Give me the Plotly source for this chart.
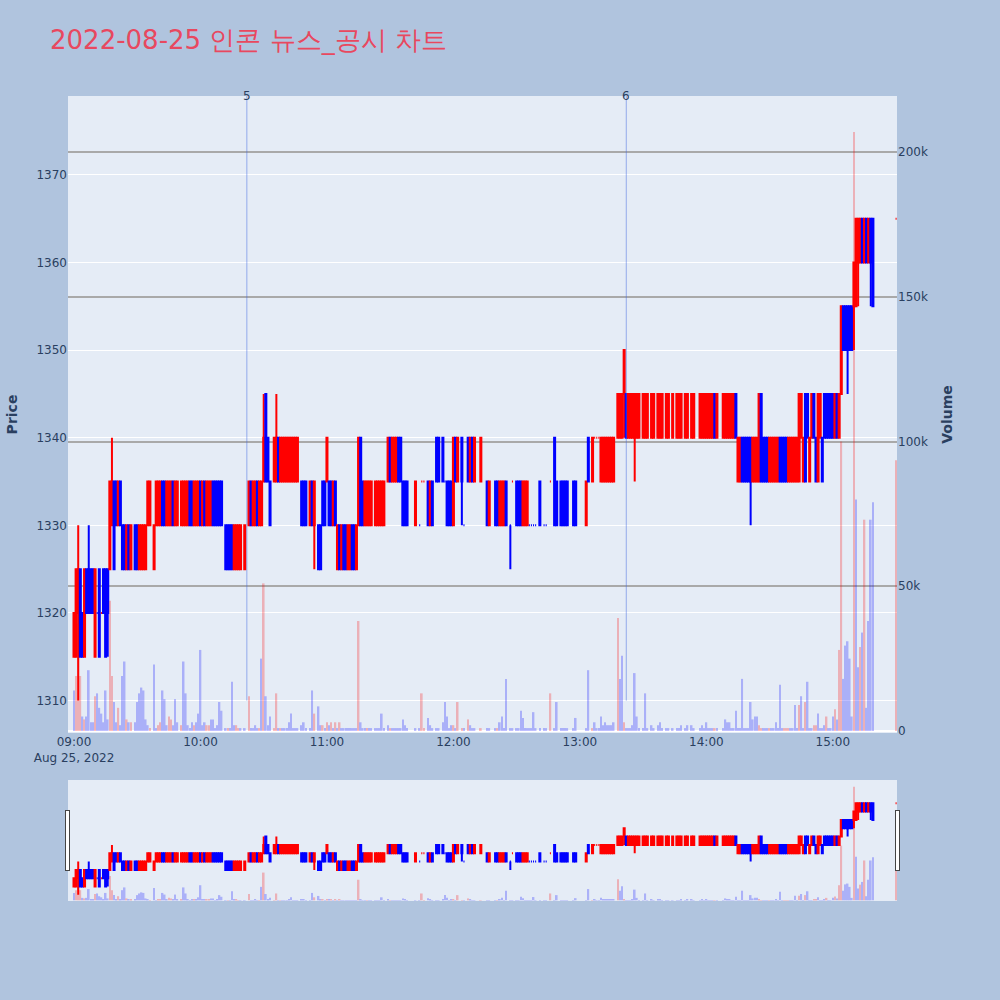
import pandas as pd
import plotly.graph_objects as go
from plotly.subplots import make_subplots

# minutes after 09:00 (only minutes with trades)
minute_idx = [
    0, 1, 2, 3, 4, 5, 6, 7, 8, 9,
    10, 11, 12, 13, 14, 15, 16, 17, 18, 19,
    20, 21, 22, 23, 24, 25, 26, 27, 29, 30,
    31, 32, 33, 34, 35, 36, 38, 39, 40, 41,
    42, 43, 44, 45, 46, 47, 48, 49, 51, 52,
    53, 54, 55, 56, 57, 58, 59, 60, 61, 62,
    63, 64, 65, 66, 67, 68, 69, 70, 72, 73,
    74, 75, 76, 77, 78, 79, 81, 83, 84, 85,
    86, 87, 88, 89, 90, 91, 92, 93, 95, 96,
    97, 98, 99, 100, 101, 102, 103, 104, 105, 106,
    108, 109, 110, 112, 113, 114, 116, 117, 118, 119,
    120, 121, 122, 123, 124, 125, 126, 127, 128, 129,
    130, 131, 132, 133, 134, 135, 136, 137, 138, 139,
    140, 141, 143, 144, 145, 146, 147, 149, 150, 151,
    152, 153, 154, 155, 156, 157, 158, 162, 164, 165,
    166, 168, 169, 170, 172, 173, 175, 176, 177, 178,
    179, 180, 181, 182, 184, 185, 187, 188, 189, 190,
    193, 196, 197, 200, 201, 202, 203, 204, 205, 207,
    208, 210, 211, 212, 213, 214, 215, 216, 217, 218,
    219, 221, 223, 224, 226, 228, 229, 231, 232, 233,
    234, 237, 238, 243, 244, 246, 247, 248, 249, 250,
    251, 252, 253, 254, 255, 256, 258, 259, 260, 261,
    262, 263, 264, 265, 266, 267, 268, 270, 271, 272,
    274, 275, 277, 278, 279, 281, 282, 284, 286, 287,
    288, 290, 291, 293, 294, 297, 298, 299, 300, 301,
    302, 303,
    304, 305, 308, 309, 310, 311, 312, 313, 314, 315,
    316, 317, 318, 319, 320, 321, 322, 323, 324, 325,
    326, 327, 328, 329, 330, 331, 332, 333, 334, 335,
    336, 337, 338, 339, 340, 341, 342, 343, 344, 345,
    346, 347, 348, 349, 350, 351, 352, 353, 354, 355,
    356, 357, 358, 359, 360, 361, 362, 363, 364, 365,
    366, 367, 368, 369, 370, 371, 372, 373, 374, 375,
    376, 377, 378, 379, 390,
]

opens = [
    1315, 1315, 1320, 1325, 1320, 1315, 1325, 1325, 1325, 1325,
    1315, 1320, 1325, 1320, 1325, 1325, 1325, 1325, 1330, 1335,
    1335, 1330, 1335, 1330, 1330, 1325, 1330, 1325, 1330, 1330,
    1325, 1325, 1325, 1325, 1330, 1330, 1325, 1330, 1330, 1330,
    1335, 1335, 1330, 1330, 1330, 1335, 1330, 1330, 1330, 1330,
    1330, 1330, 1335, 1335, 1330, 1330, 1330, 1335, 1330, 1335,
    1330, 1330, 1330, 1335, 1335, 1335, 1335, 1335, 1330, 1330,
    1330, 1330, 1325, 1325, 1325, 1325, 1325, 1330, 1335, 1330,
    1330, 1335, 1330, 1330, 1335, 1345, 1340, 1335, 1335, 1335,
    1340, 1335, 1335, 1335, 1335, 1335, 1335, 1335, 1335, 1335,
    1335, 1335, 1335, 1330, 1335, 1330, 1330, 1330, 1335, 1335,
    1335, 1335, 1335, 1330, 1335, 1325, 1330, 1325, 1330, 1330,
    1325, 1325, 1330, 1330, 1325, 1330, 1340, 1335, 1330, 1330,
    1330, 1330, 1330, 1330, 1330, 1330, 1330, 1335, 1340, 1335,
    1335, 1335, 1340, 1340, 1335, 1335, 1335, 1330, 1330, 1335,
    1335, 1335, 1330, 1335, 1340, 1340, 1340, 1335, 1335, 1335,
    1335, 1330, 1340, 1335, 1340, 1330, 1340, 1335, 1340, 1335,
    1335, 1335, 1330, 1335, 1335, 1330, 1330, 1330, 1335, 1330,
    1335, 1335, 1335, 1335, 1330, 1330, 1330, 1330, 1330, 1330,
    1330, 1335, 1330, 1330, 1335, 1340, 1335, 1335, 1335, 1335,
    1335, 1335, 1335, 1330, 1340, 1335, 1340, 1340, 1340, 1335,
    1335, 1335, 1335, 1335, 1335, 1335, 1340, 1340, 1340, 1345,
    1345, 1340, 1340, 1340, 1340, 1340, 1340, 1340, 1340, 1340,
    1340, 1340, 1340, 1340, 1340, 1340, 1340, 1340, 1340, 1340,
    1340, 1340, 1340, 1340, 1340, 1340, 1340, 1340, 1340, 1340,
    1340, 1340,
    1345, 1340, 1340, 1340, 1340, 1340, 1340, 1340, 1345, 1335,
    1335, 1340, 1340, 1340, 1340, 1340, 1335, 1335, 1335, 1335,
    1345, 1340, 1340, 1340, 1335, 1335, 1335, 1335, 1335, 1340,
    1340, 1340, 1340, 1335, 1335, 1335, 1335, 1335, 1335, 1340,
    1335, 1345, 1345, 1335, 1340, 1345, 1340, 1335, 1340, 1340,
    1345, 1345, 1345, 1345, 1345, 1340, 1345, 1340, 1345, 1355,
    1355, 1355, 1355, 1355, 1355, 1355, 1360, 1360, 1365, 1360,
    1365, 1360, 1365, 1365, 1365,
]

highs = [
    1320, 1325, 1330, 1325, 1320, 1325, 1325, 1330, 1325, 1325,
    1325, 1320, 1325, 1320, 1325, 1325, 1325, 1335, 1340, 1335,
    1335, 1335, 1335, 1330, 1330, 1330, 1330, 1330, 1330, 1330,
    1330, 1330, 1330, 1330, 1335, 1335, 1330, 1335, 1335, 1335,
    1335, 1335, 1335, 1335, 1335, 1335, 1335, 1335, 1335, 1335,
    1335, 1335, 1335, 1335, 1335, 1335, 1335, 1335, 1335, 1335,
    1335, 1335, 1335, 1335, 1335, 1335, 1335, 1335, 1330, 1330,
    1330, 1330, 1330, 1330, 1330, 1330, 1330, 1335, 1335, 1335,
    1335, 1335, 1335, 1335, 1345, 1345, 1340, 1335, 1340, 1345,
    1340, 1340, 1340, 1340, 1340, 1340, 1340, 1340, 1340, 1340,
    1335, 1335, 1335, 1335, 1335, 1335, 1330, 1330, 1335, 1335,
    1340, 1335, 1335, 1335, 1335, 1330, 1330, 1330, 1330, 1330,
    1330, 1330, 1330, 1330, 1330, 1340, 1340, 1335, 1335, 1335,
    1335, 1335, 1335, 1335, 1335, 1335, 1335, 1340, 1340, 1340,
    1340, 1340, 1340, 1340, 1335, 1335, 1335, 1335, 1330, 1335,
    1335, 1335, 1335, 1335, 1340, 1340, 1340, 1335, 1335, 1335,
    1335, 1340, 1340, 1340, 1340, 1330, 1340, 1340, 1340, 1340,
    1340, 1335, 1335, 1335, 1335, 1335, 1335, 1335, 1335, 1330,
    1335, 1335, 1335, 1335, 1335, 1335, 1335, 1330, 1330, 1330,
    1330, 1335, 1330, 1330, 1335, 1340, 1335, 1335, 1335, 1335,
    1335, 1335, 1335, 1335, 1340, 1340, 1340, 1340, 1340, 1340,
    1340, 1340, 1340, 1340, 1340, 1340, 1345, 1345, 1345, 1350,
    1345, 1345, 1345, 1345, 1345, 1345, 1345, 1345, 1345, 1345,
    1345, 1345, 1345, 1345, 1345, 1345, 1345, 1345, 1345, 1345,
    1345, 1345, 1345, 1345, 1345, 1345, 1345, 1345, 1345, 1345,
    1345, 1345,
    1345, 1345, 1345, 1345, 1345, 1345, 1345, 1345, 1345, 1340,
    1340, 1340, 1340, 1340, 1340, 1340, 1340, 1340, 1340, 1345,
    1345, 1340, 1340, 1340, 1340, 1340, 1340, 1340, 1340, 1340,
    1340, 1340, 1340, 1340, 1340, 1340, 1340, 1340, 1345, 1345,
    1340, 1345, 1345, 1340, 1345, 1345, 1340, 1345, 1345, 1340,
    1345, 1345, 1345, 1345, 1345, 1345, 1345, 1345, 1355, 1355,
    1355, 1355, 1355, 1355, 1360, 1365, 1365, 1365, 1365, 1365,
    1365, 1365, 1365, 1365, 1365,
]

lows = [
    1315, 1315, 1310, 1315, 1315, 1315, 1320, 1320, 1320, 1320,
    1315, 1320, 1315, 1320, 1320, 1315, 1315, 1325, 1330, 1325,
    1330, 1330, 1330, 1325, 1325, 1325, 1325, 1325, 1325, 1325,
    1325, 1325, 1325, 1325, 1330, 1330, 1325, 1330, 1330, 1330,
    1330, 1330, 1330, 1330, 1330, 1330, 1330, 1330, 1330, 1330,
    1330, 1330, 1330, 1330, 1330, 1330, 1330, 1330, 1330, 1330,
    1330, 1330, 1330, 1330, 1330, 1330, 1330, 1330, 1325, 1325,
    1325, 1325, 1325, 1325, 1325, 1325, 1325, 1330, 1330, 1330,
    1330, 1330, 1330, 1330, 1335, 1335, 1335, 1330, 1335, 1335,
    1335, 1335, 1335, 1335, 1335, 1335, 1335, 1335, 1335, 1335,
    1330, 1330, 1330, 1330, 1330, 1325, 1325, 1325, 1330, 1330,
    1335, 1330, 1330, 1330, 1330, 1325, 1325, 1325, 1325, 1325,
    1325, 1325, 1325, 1325, 1325, 1330, 1330, 1330, 1330, 1330,
    1330, 1330, 1330, 1330, 1330, 1330, 1330, 1335, 1335, 1335,
    1335, 1335, 1335, 1335, 1330, 1330, 1330, 1330, 1330, 1335,
    1335, 1330, 1330, 1330, 1335, 1335, 1335, 1335, 1330, 1330,
    1330, 1330, 1335, 1335, 1330, 1330, 1335, 1335, 1335, 1335,
    1335, 1330, 1330, 1330, 1330, 1330, 1330, 1330, 1330, 1325,
    1335, 1330, 1330, 1330, 1330, 1330, 1330, 1330, 1330, 1330,
    1330, 1330, 1330, 1330, 1335, 1330, 1330, 1330, 1330, 1330,
    1330, 1330, 1330, 1330, 1335, 1335, 1340, 1340, 1340, 1335,
    1335, 1335, 1335, 1335, 1335, 1335, 1340, 1340, 1340, 1340,
    1340, 1340, 1340, 1340, 1335, 1340, 1340, 1340, 1340, 1340,
    1340, 1340, 1340, 1340, 1340, 1340, 1340, 1340, 1340, 1340,
    1340, 1340, 1340, 1340, 1340, 1340, 1340, 1340, 1340, 1340,
    1340, 1340,
    1340, 1340, 1340, 1340, 1340, 1340, 1340, 1340, 1340, 1335,
    1335, 1335, 1335, 1335, 1335, 1330, 1335, 1335, 1335, 1335,
    1335, 1335, 1335, 1335, 1335, 1335, 1335, 1335, 1335, 1335,
    1335, 1335, 1335, 1335, 1335, 1335, 1335, 1335, 1335, 1340,
    1335, 1335, 1340, 1335, 1340, 1340, 1335, 1335, 1340, 1335,
    1340, 1340, 1340, 1340, 1340, 1340, 1340, 1340, 1345, 1350,
    1350, 1345, 1350, 1350, 1350, 1355, 1355, 1360, 1360, 1360,
    1360, 1360, 1355, 1355, 1365,
]

closes = [
    1320, 1325, 1325, 1315, 1315, 1325, 1320, 1320, 1320, 1320,
    1325, 1320, 1315, 1320, 1320, 1315, 1320, 1335, 1335, 1325,
    1330, 1335, 1330, 1325, 1325, 1330, 1325, 1330, 1325, 1325,
    1330, 1330, 1330, 1330, 1335, 1335, 1330, 1335, 1335, 1335,
    1330, 1330, 1335, 1335, 1335, 1330, 1335, 1335, 1335, 1335,
    1335, 1335, 1330, 1330, 1335, 1335, 1335, 1330, 1335, 1330,
    1335, 1335, 1335, 1330, 1330, 1330, 1330, 1330, 1325, 1325,
    1325, 1325, 1330, 1330, 1330, 1330, 1330, 1335, 1330, 1335,
    1335, 1330, 1335, 1335, 1340, 1335, 1335, 1330, 1340, 1340,
    1335, 1340, 1340, 1340, 1340, 1340, 1340, 1340, 1340, 1340,
    1330, 1330, 1330, 1335, 1330, 1335, 1325, 1325, 1330, 1330,
    1340, 1330, 1330, 1335, 1330, 1330, 1325, 1330, 1325, 1325,
    1330, 1330, 1325, 1325, 1330, 1340, 1330, 1330, 1335, 1335,
    1335, 1335, 1335, 1335, 1335, 1335, 1335, 1340, 1335, 1340,
    1340, 1340, 1335, 1335, 1330, 1330, 1330, 1335, 1330, 1335,
    1335, 1330, 1335, 1330, 1335, 1335, 1335, 1335, 1330, 1330,
    1330, 1340, 1335, 1340, 1335, 1330, 1335, 1340, 1335, 1340,
    1340, 1330, 1335, 1330, 1330, 1335, 1335, 1335, 1330, 1330,
    1335, 1330, 1330, 1330, 1335, 1335, 1335, 1330, 1330, 1330,
    1330, 1330, 1330, 1330, 1335, 1330, 1330, 1330, 1330, 1330,
    1330, 1330, 1330, 1335, 1335, 1340, 1340, 1340, 1340, 1340,
    1340, 1340, 1340, 1340, 1340, 1340, 1345, 1345, 1345, 1350,
    1340, 1345, 1345, 1345, 1345, 1345, 1345, 1345, 1345, 1345,
    1345, 1345, 1345, 1345, 1345, 1345, 1345, 1345, 1345, 1345,
    1345, 1345, 1345, 1345, 1345, 1345, 1345, 1345, 1345, 1345,
    1345, 1345,
    1340, 1345, 1345, 1345, 1345, 1345, 1345, 1345, 1340, 1340,
    1340, 1335, 1335, 1335, 1335, 1335, 1340, 1340, 1340, 1345,
    1335, 1335, 1335, 1335, 1340, 1340, 1340, 1340, 1340, 1335,
    1335, 1335, 1335, 1340, 1340, 1340, 1340, 1340, 1345, 1345,
    1340, 1335, 1340, 1340, 1345, 1340, 1335, 1345, 1345, 1335,
    1340, 1340, 1340, 1340, 1340, 1345, 1340, 1345, 1355, 1350,
    1350, 1350, 1350, 1350, 1360, 1365, 1365, 1365, 1360, 1365,
    1360, 1365, 1360, 1355, 1365,
]

volumes = [
    14000, 19000, 37000, 19000, 5000, 4000, 5000, 21000, 3000, 3000,
    12000, 13000, 8000, 6000, 3000, 14000, 4000, 45000, 19000, 10000,
    3000, 8000, 2000, 19000, 24000, 4000, 3000, 3000, 3000, 10000,
    13000, 15000, 14000, 4000, 2000, 1000, 23000, 1000, 2000, 3000,
    14000, 11000, 2000, 5000, 4000, 2000, 11000, 3000, 2000, 24000,
    13000, 2000, 1000, 3000, 2000, 3000, 6000, 28000, 2000, 3000,
    2000, 2000, 4000, 4000, 1000, 2000, 10000, 7000, 1000, 1000,
    1000, 17000, 2000, 2000, 1000, 1000, 1000, 12000, 1000, 1000,
    2000, 1000, 1000, 25000, 51000, 12000, 2000, 5000, 1000, 13000,
    1000, 1000, 1000, 1000, 1000, 3000, 6000, 1000, 1000, 1000,
    2000, 3000, 1000, 1000, 14000, 6000, 8500, 2000, 2000, 1000,
    3000, 2000, 3000, 1000, 3000, 1000, 3000, 1000, 1000, 1000,
    1000, 1000, 1000, 1000, 1000, 38000, 3000, 1000, 1000, 1000,
    1000, 1000, 1000, 1000, 1000, 6000, 1000, 2000, 1000, 1000,
    1000, 1000, 1000, 1000, 4000, 2000, 1000, 1000, 1000, 13000,
    1000, 4500, 2000, 1000, 1000, 1000, 3000, 10000, 5000, 1000,
    2000, 2000, 1000, 10000, 1000, 1000, 4000, 2000, 1000, 1000,
    1000, 1000, 1000, 1000, 1000, 3000, 5000, 1000, 18000, 1000,
    1000, 1000, 1000, 7000, 4500, 1000, 1000, 1000, 1000, 6500,
    1000, 1000, 1000, 1000, 13000, 1000, 10000, 1000, 1000, 1000,
    1000, 1000, 4500, 1000, 21000, 1000, 3000, 1000, 1000, 5000,
    2000, 3000, 2000, 2000, 2000, 3000, 39000, 18000, 26000, 3000,
    1000, 1000, 1000, 2000, 20000, 5000, 1000, 1000, 13000, 1000,
    2000, 1000, 2000, 3000, 1000, 1000, 1000, 1000, 1000, 1000,
    2000, 1000, 2000, 2000, 1000, 1000, 2000, 1000, 3000, 1000,
    1000, 1000,
    1000, 1000, 1000, 4000, 3000, 3000, 1000, 1000, 7000, 1000,
    1000, 18000, 1000, 1000, 1000, 10000, 4000, 5000, 5000, 2000,
    1000, 1000, 1000, 1000, 1000, 1000, 1000, 3000, 1000, 16000,
    1000, 1000, 1000, 1000, 1000, 1000, 9000, 1000, 9000, 12000,
    1000, 10000, 17000, 1000, 1000, 2000, 2000, 6000, 1000, 1000,
    2000, 5000, 1000, 1000, 5000, 7500, 4000, 28000, 100000, 18000,
    29500, 31000, 25000, 5000, 207000, 80000, 22000, 29000, 34000, 73000,
    8000, 38000, 73000, 79000, 93500,
]

# U = buy-side (red) volume, D = sell-side (blue) volume
vol_side = [
    "D", "U", "U", "U", "D", "U", "D", "D", "D", "D",
    "U", "D", "D", "D", "D", "D", "D", "U", "U", "D",
    "D", "U", "D", "D", "D", "U", "D", "U", "D", "D",
    "D", "D", "D", "D", "D", "U", "D", "D", "U", "U",
    "D", "D", "D", "U", "U", "D", "D", "D", "U", "D",
    "D", "D", "D", "D", "U", "D", "D", "D", "D", "D",
    "U", "U", "D", "D", "D", "D", "D", "D", "D", "U",
    "D", "D", "D", "U", "U", "D", "D", "U", "D", "D",
    "D", "D", "U", "D", "U", "D", "D", "D", "U", "U",
    "D", "U", "D", "D", "D", "D", "D", "D", "D", "D",
    "D", "D", "D", "D", "D", "U", "D", "D", "U", "D",
    "U", "D", "U", "D", "U", "D", "U", "D", "D", "D",
    "D", "D", "D", "D", "D", "U", "D", "D", "D", "U",
    "D", "D", "D", "D", "D", "D", "D", "D", "U", "D",
    "D", "D", "D", "D", "D", "D", "D", "D", "D", "U",
    "U", "D", "D", "D", "D", "D", "D", "D", "D", "D",
    "D", "U", "D", "U", "U", "D", "U", "D", "D", "D",
    "U", "D", "D", "D", "U", "D", "D", "D", "D", "D",
    "D", "D", "D", "D", "D", "D", "D", "D", "D", "D",
    "D", "D", "D", "D", "U", "D", "D", "D", "D", "D",
    "D", "D", "D", "D", "D", "U", "D", "D", "D", "D",
    "D", "D", "D", "D", "D", "D", "U", "D", "D", "U",
    "D", "D", "D", "D", "D", "D", "D", "D", "D", "D",
    "D", "D", "D", "D", "D", "D", "D", "D", "D", "D",
    "D", "D", "D", "D", "D", "D", "D", "D", "D", "D",
    "D", "D",
    "U", "D", "D", "D", "D", "D", "D", "D", "D", "D",
    "D", "D", "D", "D", "D", "D", "D", "D", "D", "U",
    "U", "D", "D", "D", "U", "D", "D", "D", "D", "D",
    "D", "U", "U", "U", "D", "D", "D", "D", "U", "D",
    "D", "U", "D", "D", "D", "U", "U", "D", "D", "D",
    "D", "U", "D", "D", "D", "U", "D", "U", "U", "D",
    "D", "D", "D", "D", "U", "D", "D", "U", "D", "U",
    "D", "D", "D", "D", "U",
]

news_times = ["2022-08-25 10:22", "2022-08-25 13:22"]
news_labels = ["5", "6"]

n = len(minute_idx)
assert all(len(a) == n for a in [opens, highs, lows, closes, volumes, vol_side]), \
    [len(a) for a in [minute_idx, opens, highs, lows, closes, volumes, vol_side]]

base = pd.Timestamp("2022-08-25 09:00:00")
times = [base + pd.Timedelta(minutes=m) for m in minute_idx]
vol_colors = ["red" if s == "U" else "blue" for s in vol_side]

x_range = ["2022-08-25 08:57:09", "2022-08-25 15:30:26"]
y_range = [1306.3, 1379.0]

fig = make_subplots(specs=[[{"secondary_y": True}]])
fig.add_trace(
    go.Candlestick(
        x=times, open=opens, high=highs, low=lows, close=closes,
        increasing=dict(line=dict(color="red"), fillcolor="red"),
        decreasing=dict(line=dict(color="blue"), fillcolor="blue"),
        showlegend=False, name="Price",
    ),
    secondary_y=False,
)
fig.add_trace(
    go.Bar(x=times, y=volumes, marker=dict(color=vol_colors, line=dict(width=0)),
           opacity=0.25, showlegend=False, name="Volume"),
    secondary_y=True,
)

for t, lab in zip(news_times, news_labels):
    fig.add_shape(type="line", xref="x", yref="y", x0=t, x1=t,
                  y0=min(lows), y1=y_range[1],
                  line=dict(color="rgba(65,105,225,0.5)", width=1))
    fig.add_annotation(x=t, y=1, xref="x", yref="paper", text=lab,
                       showarrow=False, yanchor="middle",
                       font=dict(size=12, color="#2a3f5f"))

fig.update_layout(
    width=1000, height=1000,
    font=dict(family="DejaVu Sans", size=12),
    paper_bgcolor="lightsteelblue",
    margin=dict(l=68, r=103, t=96, b=100),
    title=dict(text="2022-08-25 인콘 뉴스_공시 차트", x=0.05, xanchor="left",
               y=0.96, yanchor="middle",
               font=dict(family="DejaVu Sans", size=26, color="#E8485F")),
    showlegend=False,
    xaxis=dict(domain=[0, 1], range=x_range,
               rangeslider=dict(visible=True, range=x_range)),
)
fig.update_yaxes(title=dict(text="Price", font=dict(size=14, weight="bold")),
                 range=y_range, secondary_y=False)
fig.update_yaxes(title=dict(text="Volume", font=dict(size=14, weight="bold")),
                 range=[-700, 219400], showgrid=True, gridcolor="darkgray",
                 gridwidth=2, secondary_y=True)

fig.write_html("out.html", config={"displayModeBar": False},
               post_script="document.body.style.margin='0px';")
